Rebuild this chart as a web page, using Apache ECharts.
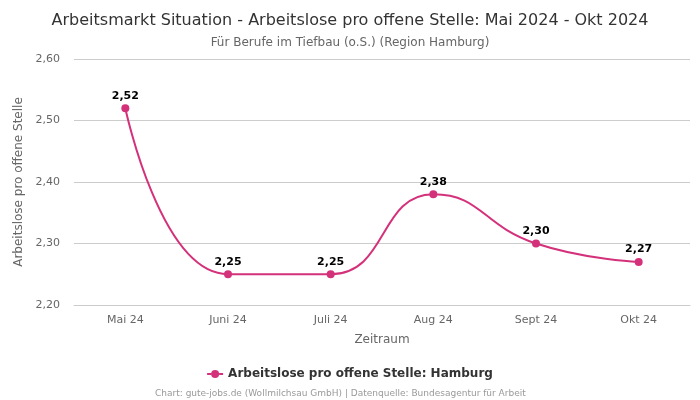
<!DOCTYPE html>
<html><head><meta charset="utf-8">
<script src="https://cdn.jsdelivr.net/npm/echarts@6/dist/echarts.min.js"></script>
<style>html,body{margin:0;padding:0;background:#fff}#c{width:700px;height:400px}</style>
</head><body><div id="c"></div>
<script>
const categories = ['Mai 24','Juni 24','Juli 24','Aug 24','Sept 24','Okt 24'];
const values = [2.52, 2.25, 2.25, 2.38, 2.30, 2.27];
const yTicks = [2.2, 2.3, 2.4, 2.5, 2.6];
const seriesName = 'Arbeitslose pro offene Stelle: Hamburg';
const fmt = v => v.toFixed(2).replace('.', ',');
const chart = echarts.init(document.getElementById('c'));
const F = 'DejaVu Sans';
chart.setOption({
  animation: false,
  textStyle: {fontFamily: F},
  title: [
    {text: 'Arbeitsmarkt Situation - Arbeitslose pro offene Stelle: Mai 2024 - Okt 2024', left: 'center', top: 8,
     textStyle: {fontFamily: F, fontSize: 16, fontWeight: 'normal', color: '#333'}},
    {text: 'Für Berufe im Tiefbau (o.S.) (Region Hamburg)', left: 'center', top: 32,
     textStyle: {fontFamily: F, fontSize: 12, fontWeight: 'normal', color: '#666'}},
    {text: 'Chart: gute-jobs.de (Wollmilchsau GmbH) | Datenquelle: Bundesagentur für Arbeit', left: 150, top: 384,
     textStyle: {fontFamily: F, fontSize: 9, fontWeight: 'normal', color: '#999'}}
  ],
  legend: {bottom: 15, left: 'center', itemWidth: 16, itemHeight: 8, itemGap: 6,
    textStyle: {fontFamily: F, fontSize: 12, fontWeight: 'bold', color: '#333'},
    data: [{name: seriesName, icon: 'path://M0,3 H4 V5 H0 Z M12,3 H16 V5 H12 Z M4,4 A4,4 0 1 0 12,4 A4,4 0 1 0 4,4 Z'}]},
  grid: {left: 74, right: 10, top: 59, bottom: 95},
  xAxis: {type: 'category', data: categories, boundaryGap: true,
    name: 'Zeitraum', nameLocation: 'middle', nameGap: 29,
    nameTextStyle: {fontFamily: F, fontSize: 12, color: '#666'},
    axisLine: {show: true, lineStyle: {color: '#ccc'}}, axisTick: {show: false},
    axisLabel: {fontFamily: F, fontSize: 11, color: '#666', margin: 10}},
  yAxis: {type: 'value', min: yTicks[0], max: yTicks[yTicks.length-1], interval: 0.1,
    name: 'Arbeitslose pro offene Stelle', nameLocation: 'middle', nameGap: 45,
    nameTextStyle: {fontFamily: F, fontSize: 12, color: '#666'},
    axisLine: {show: false}, axisTick: {show: false},
    splitLine: {lineStyle: {color: '#ccc'}},
    axisLabel: {fontFamily: F, fontSize: 11, color: '#666', margin: 14, formatter: v => fmt(v)}},
  series: [{name: seriesName, type: 'line', data: values, smooth: 0.5,
    symbol: 'circle', symbolSize: 8,
    itemStyle: {color: '#d4317b'}, lineStyle: {color: '#d4317b', width: 2},
    label: {show: true, position: 'top', distance: 3, formatter: p => fmt(p.value),
      fontFamily: F, fontSize: 11, fontWeight: 'bold', color: '#000'}}]
});
</script></body></html>
